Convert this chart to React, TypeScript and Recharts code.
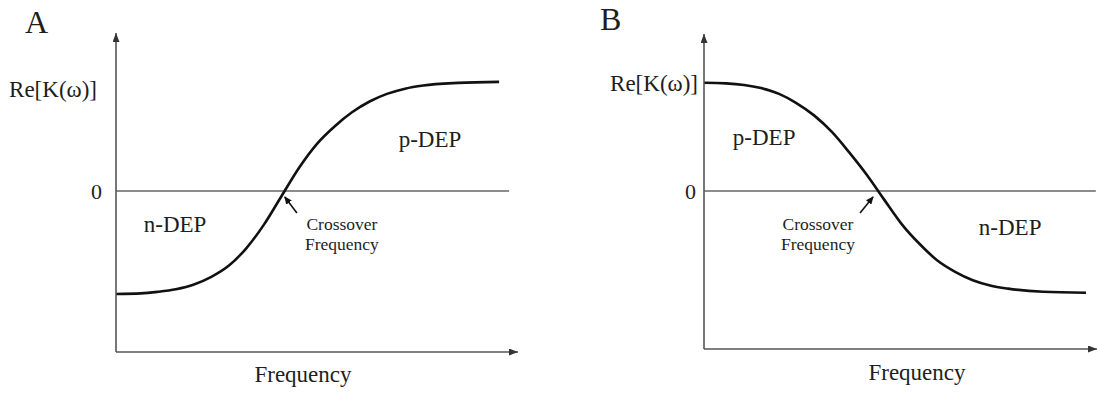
import React from 'react';
import { LineChart, Line, XAxis, YAxis, ReferenceLine, ReferenceDot, Label } from 'recharts';

// Real part of the Clausius–Mossotti factor against (log) frequency
const freqA = [0, 0.62, 1.04, 1.49, 1.94, 2.36, 2.81, 3.23, 3.68, 4.13, 4.55, 5.0, 5.45, 5.87, 6.32, 6.74, 7.19, 7.64, 8.51, 9.53];
const reKA = [-0.98, -0.975, -0.96, -0.935, -0.89, -0.82, -0.71, -0.55, -0.32, -0.04, 0.22, 0.45, 0.62, 0.75, 0.855, 0.925, 0.975, 1.005, 1.03, 1.04];

const freqB = [0, 0.56, 1.02, 1.45, 1.91, 2.34, 2.8, 3.26, 3.69, 4.15, 4.58, 5.04, 5.5, 5.93, 6.39, 6.84, 7.28, 7.74, 8.63, 9.72];
const reKB = [1.03, 1.025, 1.01, 0.98, 0.925, 0.84, 0.72, 0.56, 0.37, 0.15, -0.08, -0.32, -0.51, -0.66, -0.77, -0.85, -0.9, -0.93, -0.96, -0.97];

const yTicks = [0];
const panelLetters = ['A', 'B'];
const yTitle = 'Re[K(ω)]';
const xTitle = 'Frequency';
const regionLabels = ['n-DEP', 'p-DEP'];
const crossoverLines = ['Crossover', 'Frequency'];

const SERIF = '"Liberation Serif", "Times New Roman", serif';
const TEXT = '#1e1e1e';
const AXIS = '#555';

type PanelCfg = {
  left: number;
  data: { f: number; v: number }[];
  margin: { top: number; right: number; bottom: number; left: number };
  yWidth: number;
  xHeight: number;
  yDomain: [number, number];
  zeroEnd: number;
  tickMargin: number;
  letter: string;
  letterPos: [number, number];
  yTitlePos: [number, number];
  xTitlePos: [number, number];
  nDep: [number, number];
  pDep: [number, number];
  crossX: number;
  arrow: [number, number, number, number];
};

const zip = (f: number[], v: number[]) => f.map((x, i) => ({ f: x, v: v[i] }));

const panels: PanelCfg[] = [
  {
    left: 0,
    data: zip(freqA, reKA),
    margin: { top: 33, right: 31, bottom: 0, left: 0 },
    yWidth: 116,
    xHeight: 41,
    yDomain: [-1.533, 1.505],
    zeroEnd: 9.78,
    tickMargin: 14,
    letter: panelLetters[0],
    letterPos: [25, 0],
    yTitlePos: [97, 64],
    xTitlePos: [187, 30],
    nDep: [1.47, -0.31],
    pDep: [7.81, 0.5],
    crossX: 5.62,
    arrow: [4.5, -0.21, 4.2, -0.057],
  },
  {
    left: 549,
    data: zip(freqB, reKB),
    margin: { top: 34, right: 1, bottom: 0, left: 0 },
    yWidth: 155,
    xHeight: 44,
    yDomain: [-1.505, 1.495],
    zeroEnd: 9.97,
    tickMargin: 8,
    letter: panelLetters[1],
    letterPos: [51, -4],
    yTitlePos: [149, 57],
    xTitlePos: [213, 31],
    nDep: [7.79, -0.34],
    pDep: [1.53, 0.52],
    crossX: 2.9,
    arrow: [3.97, -0.21, 4.3, -0.057],
  },
];

const textLabel = (value: string, fontSize: number) => ({
  value,
  position: 'center' as const,
  fontSize,
  fill: TEXT,
  fontFamily: SERIF,
});

function Panel({ cfg }: { cfg: PanelCfg }) {
  const yLabel = (props: any) => {
    const vb = props.viewBox;
    return (
      <g fontFamily={SERIF} fill={TEXT}>
        <text x={vb.x + cfg.letterPos[0]} y={vb.y + cfg.letterPos[1]} fontSize={32}>
          {cfg.letter}
        </text>
        <text x={vb.x + cfg.yTitlePos[0]} y={vb.y + cfg.yTitlePos[1]} fontSize={23} textAnchor="end">
          {yTitle}
        </text>
      </g>
    );
  };
  const xLabel = (props: any) => {
    const vb = props.viewBox;
    return (
      <text
        x={vb.x + cfg.xTitlePos[0]}
        y={vb.y + cfg.xTitlePos[1]}
        fontSize={23}
        textAnchor="middle"
        fontFamily={SERIF}
        fill={TEXT}
      >
        {xTitle}
      </text>
    );
  };
  return (
    <div style={{ position: 'absolute', left: cfg.left, top: 0 }}>
      <LineChart width={549} height={393} data={cfg.data} margin={cfg.margin}>
        <XAxis
          type="number"
          dataKey="f"
          domain={[0, 10]}
          height={cfg.xHeight}
          tick={false}
          tickLine={false}
          axisLine={{ stroke: AXIS, strokeWidth: 1.6, markerEnd: 'url(#axisArrow)' }}
        >
          <Label content={xLabel} />
        </XAxis>
        <YAxis
          type="number"
          domain={cfg.yDomain}
          allowDataOverflow
          width={cfg.yWidth}
          ticks={yTicks}
          tickLine={false}
          tickSize={0}
          tickMargin={cfg.tickMargin}
          tick={{ fontSize: 22, fill: TEXT, fontFamily: SERIF }}
          axisLine={{ stroke: AXIS, strokeWidth: 1.6, markerStart: 'url(#axisArrow)' }}
        >
          <Label content={yLabel} />
        </YAxis>
        <ReferenceLine
          segment={[
            { x: 0, y: 0 },
            { x: cfg.zeroEnd, y: 0 },
          ]}
          stroke="#666"
          strokeWidth={1.6}
        />
        <Line
          dataKey="v"
          type="monotone"
          stroke="#111"
          strokeWidth={2.6}
          dot={false}
          activeDot={false}
          isAnimationActive={false}
        />
        <ReferenceLine
          segment={[
            { x: cfg.arrow[0], y: cfg.arrow[1] },
            { x: cfg.arrow[2], y: cfg.arrow[3] },
          ]}
          stroke="#111"
          strokeWidth={1.6}
          markerEnd="url(#crossArrow)"
        />
        <ReferenceDot x={cfg.nDep[0]} y={cfg.nDep[1]} r={1} fill="none" stroke="none" label={textLabel(regionLabels[0], 23)} />
        <ReferenceDot x={cfg.pDep[0]} y={cfg.pDep[1]} r={1} fill="none" stroke="none" label={textLabel(regionLabels[1], 23)} />
        <ReferenceDot x={cfg.crossX} y={-0.31} r={1} fill="none" stroke="none" label={textLabel(crossoverLines[0], 17.5)} />
        <ReferenceDot x={cfg.crossX} y={-0.5} r={1} fill="none" stroke="none" label={textLabel(crossoverLines[1], 17.5)} />
      </LineChart>
    </div>
  );
}

export default function App() {
  return (
    <div style={{ position: 'absolute', left: 0, top: 0, width: 1098, height: 393, background: '#fff', overflow: 'hidden' }}>
      <svg width={0} height={0} style={{ position: 'absolute' }}>
        <defs>
          <marker
            id="axisArrow"
            markerWidth={9}
            markerHeight={7}
            refX={9}
            refY={3.5}
            orient="auto-start-reverse"
            markerUnits="userSpaceOnUse"
          >
            <path d="M0,0 L9,3.5 L0,7 z" fill="#333" />
          </marker>
          <marker
            id="crossArrow"
            markerWidth={8}
            markerHeight={7}
            refX={7}
            refY={3.5}
            orient="auto"
            markerUnits="userSpaceOnUse"
          >
            <path d="M0,0 L8,3.5 L0,7 z" fill="#111" />
          </marker>
        </defs>
      </svg>
      {panels.map((p) => (
        <Panel key={p.letter} cfg={p} />
      ))}
    </div>
  );
}
